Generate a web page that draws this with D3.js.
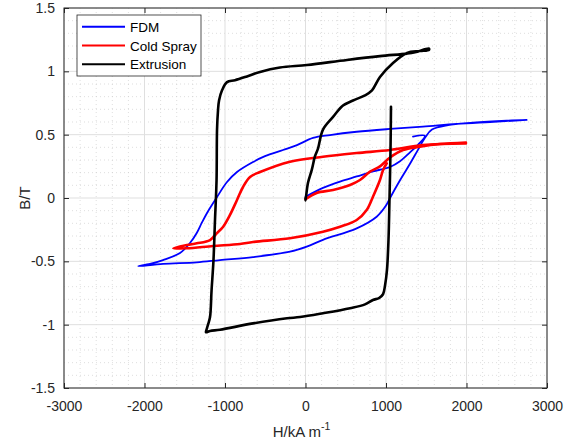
<!DOCTYPE html>
<html>
<head>
<meta charset="utf-8">
<script src="https://cdn.jsdelivr.net/npm/d3@7"></script>
<style>
  body { margin: 0; background: #fff; }
  svg { display: block; font-family: "Liberation Sans", Arial, sans-serif; }
</style>
</head>
<body>
<svg id="chart"></svg>
<script>
// H in kA/m, B in T
const fdmInitial = [
  [0, 0.01], [217, 0.08], [429, 0.13], [636, 0.17], [838, 0.21], [1050, 0.245],
  [1174, 0.29], [1298, 0.36], [1397, 0.42], [1484, 0.49], [1335, 0.485]
];
const fdmLoop = [
  [2747, 0.616], [2292, 0.60], [1878, 0.585], [1459, 0.563], [1050, 0.545], [636, 0.523],
  [304, 0.497], [93, 0.474], [-106, 0.418], [-279, 0.379], [-503, 0.33], [-652, 0.284],
  [-851, 0.205], [-975, 0.126], [-1099, 0.008], [-1223, -0.118], [-1289, -0.197],
  [-1351, -0.276], [-1435, -0.355], [-1559, -0.434], [-1770, -0.49], [-1931, -0.52],
  [-2077, -0.537], [-1770, -0.52], [-1351, -0.508], [-1062, -0.49], [-652, -0.466],
  [-193, -0.424], [15, -0.384], [217, -0.33], [636, -0.24], [884, -0.148], [1000, -0.06],
  [1050, 0.0], [1174, 0.14], [1298, 0.27], [1397, 0.38], [1484, 0.475], [1571, 0.54],
  [1770, 0.575], [2080, 0.594], [2499, 0.61], [2747, 0.616]
];
const coldInitial = [
  [0, -0.01], [139, 0.04], [342, 0.063], [553, 0.103], [677, 0.142], [801, 0.208],
  [925, 0.25], [1050, 0.32], [1211, 0.379], [1422, 0.405], [1670, 0.426], [1993, 0.438]
];
const coldLoop = [
  [1993, 0.43], [1459, 0.418], [1050, 0.379], [636, 0.355], [217, 0.326], [-193, 0.287],
  [-565, 0.205], [-689, 0.166], [-776, 0.087], [-851, -0.016], [-938, -0.134],
  [-1025, -0.229], [-1103, -0.279], [-1186, -0.332], [-1351, -0.358], [-1472, -0.371],
  [-1642, -0.397], [-1476, -0.397], [-1149, -0.379], [-814, -0.363], [-652, -0.347],
  [-193, -0.318], [217, -0.266], [429, -0.227], [636, -0.174], [760, -0.095],
  [838, 0.01], [925, 0.142], [963, 0.22], [1009, 0.274]
];
const extrusionCurve = [
  [0, 0], [0, -0.02], [31, 0.12], [77, 0.22], [118, 0.33], [155, 0.39], [217, 0.54],
  [342, 0.64], [466, 0.73], [590, 0.77], [739, 0.81], [826, 0.85], [925, 0.955],
  [1087, 1.066], [1261, 1.145], [1422, 1.16], [1534, 1.17],
  [1534, 1.18], [1360, 1.15], [1261, 1.14], [925, 1.12], [515, 1.09], [19, 1.05],
  [-317, 1.03], [-565, 0.995], [-727, 0.96], [-876, 0.93], [-975, 0.915], [-1037, 0.85],
  [-1074, 0.77], [-1087, 0.69], [-1099, 0.54], [-1105, 0.14], [-1124, -0.17],
  [-1143, -0.49], [-1167, -0.73], [-1186, -0.94], [-1211, -1.0], [-1230, -1.04],
  [-1236, -1.06], [-1186, -1.05], [-1062, -1.04], [-652, -0.99], [-230, -0.95],
  [-68, -0.94], [217, -0.91], [553, -0.87], [739, -0.84], [838, -0.805], [913, -0.79],
  [963, -0.76], [988, -0.69], [1012, -0.57], [1031, -0.33], [1043, -0.02], [1056, 0.38],
  [1062, 0.72]
];

const seriesNames = ["FDM", "Cold Spray", "Extrusion"];
const seriesColors = ["#0000ff", "#ff0000", "#000000"];
const xTicks = [-3000, -2000, -1000, 0, 1000, 2000, 3000];
const yTicks = [-1.5, -1, -0.5, 0, 0.5, 1, 1.5];

const width = 565, height = 443;
const plotLeft = 64, plotRight = 547, plotTop = 8, plotBottom = 388;
const ink = "#262626";

const svg = d3.select("#chart").attr("width", width).attr("height", height);

const x = d3.scaleLinear().domain([-3000, 3000]).range([plotLeft, plotRight]);
const y = d3.scaleLinear().domain([-1.5, 1.5]).range([plotBottom, plotTop]);

// minor grid (dotted)
const grid = svg.append("g");
grid.selectAll(".mx").data(d3.range(-3000, 3001, 200).filter(v => v % 1000 !== 0))
  .enter().append("line")
  .attr("x1", d => x(d)).attr("x2", d => x(d)).attr("y1", plotTop).attr("y2", plotBottom)
  .attr("stroke", "#c8c8c8").attr("stroke-width", 0.6).attr("stroke-dasharray", "1,3");
grid.selectAll(".my").data(d3.range(-15, 16).filter(v => v % 5 !== 0).map(v => v / 10))
  .enter().append("line")
  .attr("y1", d => y(d)).attr("y2", d => y(d)).attr("x1", plotLeft).attr("x2", plotRight)
  .attr("stroke", "#c8c8c8").attr("stroke-width", 0.6).attr("stroke-dasharray", "1,3");
// major grid
grid.selectAll(".gx").data(xTicks).enter().append("line")
  .attr("x1", d => x(d)).attr("x2", d => x(d)).attr("y1", plotTop).attr("y2", plotBottom)
  .attr("stroke", "#dfdfdf").attr("stroke-width", 1);
grid.selectAll(".gy").data(yTicks).enter().append("line")
  .attr("y1", d => y(d)).attr("y2", d => y(d)).attr("x1", plotLeft).attr("x2", plotRight)
  .attr("stroke", "#dfdfdf").attr("stroke-width", 1);

// curves
const line = d3.line().x(d => x(d[0])).y(d => y(d[1])).curve(d3.curveCatmullRom.alpha(0.5));
const curves = [
  { data: fdmLoop, color: seriesColors[0], w: 1.8 },
  { data: fdmInitial, color: seriesColors[0], w: 1.8 },
  { data: coldLoop, color: seriesColors[1], w: 2.6 },
  { data: coldInitial, color: seriesColors[1], w: 2.6 },
  { data: extrusionCurve, color: seriesColors[2], w: 2.6 }
];
svg.append("g").selectAll("path").data(curves).enter().append("path")
  .attr("d", d => line(d.data))
  .attr("fill", "none")
  .attr("stroke", d => d.color)
  .attr("stroke-width", d => d.w)
  .attr("stroke-linejoin", "round")
  .attr("stroke-linecap", "round");

// axes with inward ticks on all four sides; plain hyphen minus like the original
const fmt = d => String(d);
const styleAxis = g => {
  g.select(".domain").remove();
  g.selectAll("line").attr("stroke", ink);
  g.selectAll("text").attr("fill", ink).attr("font-size", 14);
};
svg.append("g").attr("transform", `translate(0,${plotBottom})`)
  .call(d3.axisBottom(x).tickValues(xTicks).tickFormat(fmt).tickSizeInner(-5).tickSizeOuter(0).tickPadding(13))
  .call(styleAxis);
svg.append("g").attr("transform", `translate(0,${plotTop})`)
  .call(d3.axisTop(x).tickValues(xTicks).tickFormat("").tickSizeInner(-5).tickSizeOuter(0))
  .call(styleAxis);
svg.append("g").attr("transform", `translate(${plotLeft},0)`)
  .call(d3.axisLeft(y).tickValues(yTicks).tickFormat(fmt).tickSizeInner(-5).tickSizeOuter(0).tickPadding(9))
  .call(styleAxis);
svg.append("g").attr("transform", `translate(${plotRight},0)`)
  .call(d3.axisRight(y).tickValues(yTicks).tickFormat("").tickSizeInner(-5).tickSizeOuter(0))
  .call(styleAxis);

svg.append("rect")
  .attr("x", plotLeft).attr("y", plotTop).attr("width", plotRight - plotLeft).attr("height", plotBottom - plotTop)
  .attr("fill", "none").attr("stroke", ink).attr("stroke-width", 1);

// axis labels
const xl = svg.append("text")
  .attr("x", (plotLeft + plotRight) / 2 - 4).attr("y", 437)
  .attr("text-anchor", "middle").attr("fill", ink).attr("font-size", 15);
xl.append("tspan").text("H/kA m");
xl.append("tspan").attr("dy", -7).attr("font-size", 10.5).text("-1");

svg.append("text")
  .attr("transform", `translate(30,${(plotTop + plotBottom) / 2}) rotate(-90)`)
  .attr("text-anchor", "middle").attr("fill", ink).attr("font-size", 15)
  .text("B/T");

// legend
const legend = svg.append("g");
legend.append("rect")
  .attr("x", 77).attr("y", 15).attr("width", 124).attr("height", 61)
  .attr("fill", "#fff").attr("stroke", ink).attr("stroke-width", 0.8);
seriesNames.forEach((name, i) => {
  const ly = 26.7 + i * 18.8;
  legend.append("line")
    .attr("x1", 82).attr("x2", 125).attr("y1", ly).attr("y2", ly)
    .attr("stroke", seriesColors[i]).attr("stroke-width", 2);
  legend.append("text")
    .attr("x", 130).attr("y", ly + 5)
    .attr("fill", "#000").attr("font-size", 13.5).text(name);
});
</script>
</body>
</html>
